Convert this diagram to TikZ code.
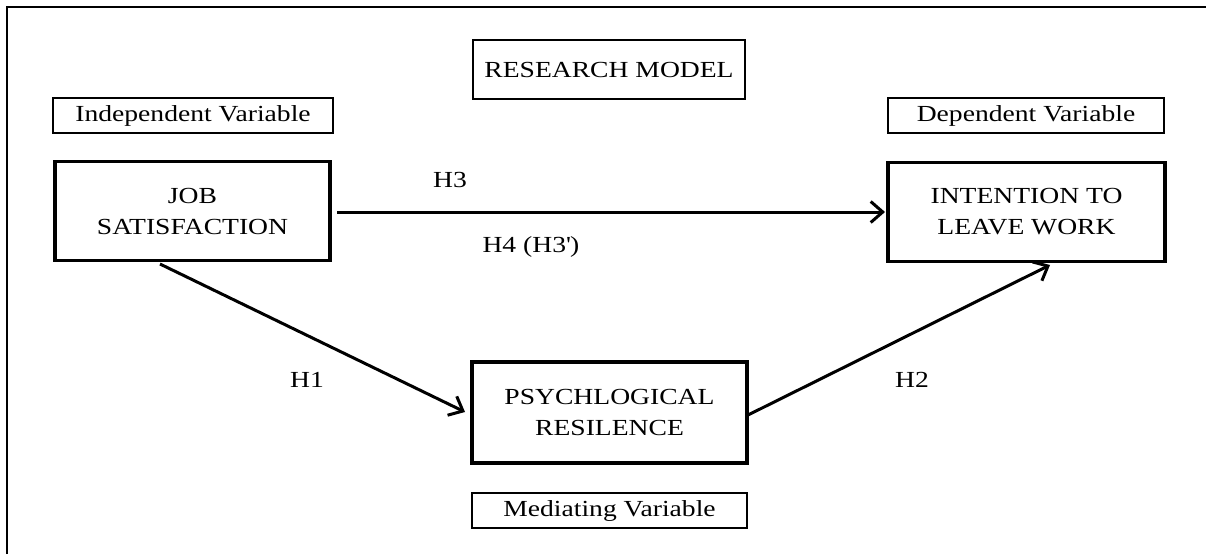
\documentclass[tikz,border=0pt]{standalone}
\usepackage{fontspec}
\setmainfont{Liberation Serif}[FakeStretch=1.2]
\usetikzlibrary{arrows.meta}
\tikzset{
  txt/.style={font=\fontsize{23}{31}\selectfont, inner sep=0pt, align=center},
  bigbox/.style={draw, line width=3.2pt, minimum width=275pt, minimum height=99pt, txt},
  lblbox/.style={draw, line width=2.8pt, minimum height=35pt, txt},
  conn/.style={line width=3pt, -{Straight Barb[length=12pt,width=21pt,line width=3pt]}},
}
\begin{document}
\begin{tikzpicture}[x=1pt,y=-1pt]
\useasboundingbox (0,0) rectangle (1206,554);
\draw[line width=2pt] (7,554) -- (7,7) -- (1206,7);

\node[lblbox, minimum width=272pt, minimum height=59pt] (rm) at (609,69.5) {RESEARCH MODEL};
\node[lblbox, minimum width=280pt] (iv) at (193,115.5) {Independent Variable};
\node[lblbox, minimum width=276pt] (dv) at (1026,115.5) {Dependent Variable};
\node[lblbox, minimum width=275pt] (mv) at (609.5,510.5) {Mediating Variable};

\node[bigbox] (js) at (192.5,211) {JOB\\SATISFACTION};
\node[bigbox, minimum width=277pt] (il) at (1026.5,212) {INTENTION TO\\LEAVE WORK};
\node[bigbox, minimum height=101pt] (pr) at (609.5,412.5) {PSYCHLOGICAL\\RESILENCE};

\coordinate (h3s) at (337,212);
\coordinate (h3e) at (885,212);
\coordinate (h1s) at (160,264);
\coordinate (h1e) at (465,412);
\coordinate (h2s) at (748,415);
\coordinate (h2e) at (1050,265);
\draw[conn] (h3s) -- (h3e);
\draw[conn] (h1s) -- (h1e);
\draw[conn] (h2s) -- (h2e);

\node[txt] (lh3) at (450,180) {H3};
\node[txt] (lh4) at (531,247) {H4 (H3\textquotesingle)};
\node[txt] (lh1) at (307,380) {H1};
\node[txt] (lh2) at (912,380) {H2};
\end{tikzpicture}
\end{document}
